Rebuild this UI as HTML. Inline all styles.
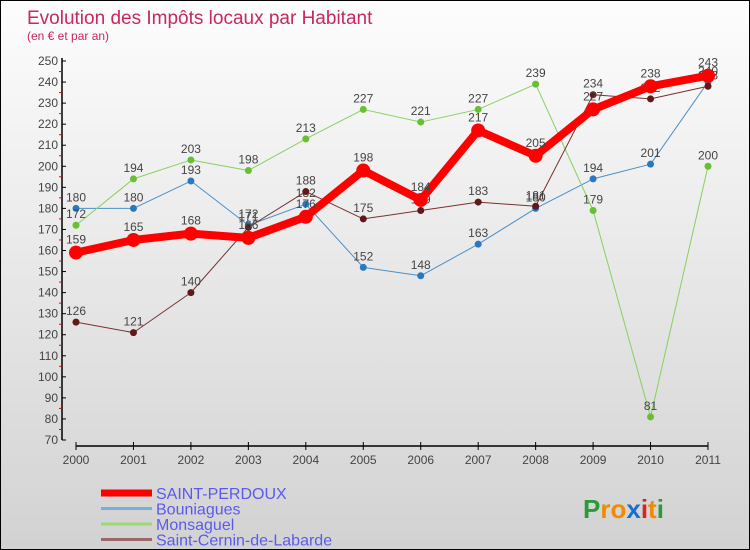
<!DOCTYPE html>
<html><head><meta charset="utf-8"><style>
html,body{margin:0;padding:0}
body{width:750px;height:550px;overflow:hidden;font-family:"Liberation Sans",sans-serif}
#wrap{position:relative;width:748px;height:548px;border:1px solid #000;background:linear-gradient(#fdfdfd,#d2d2d2)}
</style></head><body>
<div id="wrap">
<svg id="chart" width="748" height="548" xmlns="http://www.w3.org/2000/svg" style="position:absolute;left:0;top:0">
<text x="26" y="23" font-size="19" fill="#c8285a">Evolution des Impôts locaux par Habitant</text>
<text x="26" y="39" font-size="12" fill="#c8285a">(en € et par an)</text>
<g id="axes"></g>
<g id="series"></g>
<g id="legend"></g>
<text x="582" y="517" font-size="26" font-weight="bold"><tspan fill="#2a9a3a">P</tspan><tspan fill="#f08a00">ro</tspan><tspan fill="#1a70c8">x</tspan><tspan fill="#e02020">i</tspan><tspan fill="#f08a00">t</tspan><tspan fill="#2a9a3a">i</tspan></text>
</svg>
</div>
<script>
const years = ["2000","2001","2002","2003","2004","2005","2006","2007","2008","2009","2010","2011"];
const yTicks = [70,80,90,100,110,120,130,140,150,160,170,180,190,200,210,220,230,240,250];
const seriesNames = ["SAINT-PERDOUX","Bouniagues","Monsaguel","Saint-Cernin-de-Labarde"];
const saintPerdoux = [159,165,168,166,176,198,184,217,205,227,238,243];
const bouniagues = [180,180,193,172,182,152,148,163,180,194,201,240];
const monsaguel = [172,194,203,198,213,227,221,227,239,179,81,200];
const saintCernin = [126,121,140,171,188,175,179,183,181,234,232,238];

const NS="http://www.w3.org/2000/svg";
function mk(tag,attrs,parent,txt){const e=document.createElementNS(NS,tag);for(const k in attrs)e.setAttribute(k,attrs[k]);if(txt!==undefined)e.textContent=txt;parent.appendChild(e);return e;}
const x0=75,x1=707,yTop=60,yBot=439;
function xs(i){return x0+(x1-x0)*i/(years.length-1);}
function ys(v){return yBot-(v-70)/(250-70)*(yBot-yTop);}
const axes=document.getElementById('axes');
let l=mk('line',{x1:61,y1:yTop-3,x2:61,y2:yBot,stroke:'#000','stroke-width':1.5},axes);

yTicks.forEach((t,i)=>{
  const y=ys(t);
  mk('line',{x1:61,y1:y,x2:65,y2:y,stroke:'#000'},axes);
  const tx=mk('text',{x:57,y:y+4,'font-size':12,fill:'#444','text-anchor':'end'},axes,String(t));
  
  if(i<yTicks.length-1){const ym=ys(t+5);mk('line',{x1:58,y1:ym,x2:61,y2:ym,stroke:'#e00'},axes);}
});
l=mk('line',{x1:x0,y1:445,x2:x1,y2:445,stroke:'#000','stroke-width':1.5},axes);

years.forEach((yr,i)=>{
  const x=xs(i);
  mk('line',{x1:x,y1:441,x2:x,y2:449,stroke:'#000'},axes);
  const tx=mk('text',{x:x,y:463,'font-size':12,fill:'#444','text-anchor':'middle'},axes,yr);
  
});
const sg=document.getElementById('series');
const defs=[
 {d:bouniagues,c:'#4a90c8',mc:'#2a78c0',w:1,r:3.5,name:'series-bouniagues'},
 {d:monsaguel,c:'#88d060',mc:'#66c030',w:1,r:3.5,name:'series-monsaguel'},
 {d:saintCernin,c:'#7a3030',mc:'#601818',w:1,r:3.5,name:'series-saint-cernin'},
 {d:saintPerdoux,c:'#f00',mc:'#f00',w:8,r:7,name:'series-saint-perdoux'}];
defs.forEach(s=>{
  const g=mk('g',{},sg);
  
  const p=mk('polyline',{points:s.d.map((v,i)=>xs(i)+','+ys(v)).join(' '),fill:'none',stroke:s.c,'stroke-width':s.w,'stroke-linejoin':'round'},g);
  
  s.d.forEach((v,i)=>{
    const c=mk('circle',{cx:xs(i),cy:ys(v),r:s.r,fill:s.mc},g);
    
    const t=mk('text',{x:xs(i),y:ys(v)-(s.w>2?9:7),'font-size':12,fill:'#444','text-anchor':'middle'},g,String(v));
    
  });
});
const lg=document.getElementById('legend');
const lcol=['#f00','#7ab0d8','#9ad878','#9a6868'];
seriesNames.forEach((n,i)=>{
  const y=492+i*15.5;
  const g=mk('g',{},lg);
  
  mk('line',{x1:100,y1:y,x2:151,y2:y,stroke:lcol[i],'stroke-width':i==0?7:3},g);
  mk('text',{x:155,y:y+6,'font-size':16,fill:'#5a5af0'},g,n);
});
</script>
</body></html>
